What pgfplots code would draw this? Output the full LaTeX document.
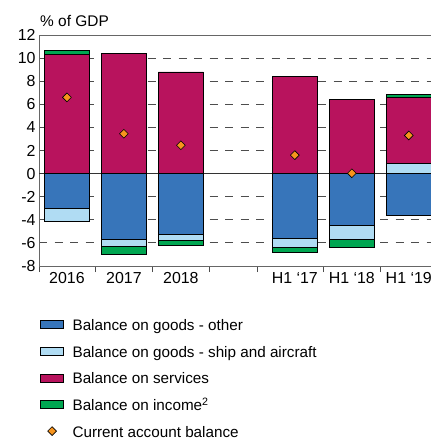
\documentclass[border=0pt]{standalone}
\usepackage{fontspec}
\setmainfont{Liberation Sans}
\usepackage{pgfplots}
\pgfplotsset{compat=1.18}

\definecolor{goodsblue}{HTML}{3775BA}
\definecolor{shipblue}{HTML}{B0DCF3}
\definecolor{services}{HTML}{B8135D}
\definecolor{income}{HTML}{00A651}
\definecolor{caorange}{HTML}{F7941D}
\definecolor{gridgray}{HTML}{4D4D4D}

\pgfplotsset{
  base/.style={
    width=392bp, height=231bp, scale only axis,
    xmin=-0.49, xmax=6.39, ymin=-8, ymax=12,
    clip=false,
  },
  seg/.style={draw=black, line width=0.8bp, fill=#1},
  rectimg/.style={legend image code/.code={
    \draw[##1] (0bp,-2.5bp) rectangle (23bp,5.5bp);
    \path[draw=none, fill=none] (0bp,-6bp) rectangle (32bp,6bp);}},
  markimg/.style={legend image code/.code={
    \draw[##1] plot coordinates {(11.5bp,1.5bp)};
    \path[draw=none, fill=none] (0bp,-6bp) rectangle (32bp,6bp);}},
  camark/.style={only marks, mark=square*, mark size=3.1bp,
    mark options={rotate=45, fill=caorange, draw=black, line width=0.6bp}},
}

\begin{document}
\begin{tikzpicture}
\useasboundingbox (-39bp,-174bp) rectangle (392bp,266bp);
\begin{axis}[
    base,
    ybar stacked,
    bar width=45bp,
    axis line style={draw=black!60, line width=0.9bp},
    tick pos=left,
    tick align=outside,
    major tick length=0pt,
    minor tick length=6bp,
    minor x tick style={draw=black!70, line width=0.9bp},
    xtick={0,1,2,4,5,6},
    xticklabels={2016,2017,2018,H1 ‘17,H1 ‘18,H1 ‘19},
    minor xtick={-0.49,0.5,1.5,2.5,3.35,4.5,5.5},
    ytick={-8,-6,-4,-2,2,4,6,8,10,12},
    yticklabels={-8,-6,-4,-2,2,4,6,8,10,12},
    extra y ticks={0},
    extra y tick labels={0},
    extra y tick style={ymajorgrids=true, major grid style={solid, draw=black!80, line width=0.9bp}},
    ymajorgrids=true, xmajorgrids=false, xminorgrids=false, yminorgrids=false,
    major grid style={draw=gridgray, line width=0.9bp, dash pattern=on 8bp off 7.5bp},
    tick label style={font=\fontsize{16}{18}\selectfont},
    xticklabel style={anchor=base, yshift=-17bp},
]
% goods and income below zero, services and the rest above
\addplot[seg=goodsblue] coordinates {(0,-3.0) (1,-5.7) (2,-5.3) (4,-5.6) (5,-4.5) (6,-3.6)};
\addplot[seg=shipblue] coordinates {(0,-1.1) (1,-0.6) (2,-0.5) (4,-0.8) (5,-1.2) (6,0.86)};
\addplot[seg=income] coordinates {(0,0) (1,-0.7) (2,-0.43) (4,-0.4) (5,-0.72) (6,0)};
\addplot[seg=services] coordinates {(0,10.3) (1,10.4) (2,8.8) (4,8.4) (5,6.43) (6,5.74)};
\addplot[seg=income] coordinates {(0,0.4) (1,0) (2,0) (4,0) (5,0) (6,0.29)};
\node[anchor=base west, inner sep=0pt, xshift=1bp, yshift=9bp,
      font=\fontsize{15.5}{18}\selectfont] at (rel axis cs:0,1) {\% of GDP};
\end{axis}

\begin{axis}[
    base,
    hide axis,
    legend style={at={(rel axis cs:0,0)}, anchor=north west, xshift=1bp, yshift=-53.5bp,
      draw=none, fill=none, inner sep=0pt, row sep=13.6bp,
      font=\fontsize{15.3}{18}\selectfont,
      nodes={inner sep=0pt, text height=11bp, text depth=2bp}},
    legend cell align=left,
]
\addplot[camark, forget plot]
  coordinates {(0,6.6) (1,3.45) (2,2.45) (4,1.6) (5,0.03) (6,3.3)};
\addlegendimage{rectimg, seg=goodsblue}
\addlegendentry{Balance on goods - other}
\addlegendimage{rectimg, seg=shipblue}
\addlegendentry{Balance on goods - ship and aircraft}
\addlegendimage{rectimg, seg=services}
\addlegendentry{Balance on services}
\addlegendimage{rectimg, seg=income}
\addlegendentry{Balance on income\textsuperscript{2}}
\addlegendimage{camark, markimg}
\addlegendentry{Current account balance}
\end{axis}
\end{tikzpicture}
\end{document}
